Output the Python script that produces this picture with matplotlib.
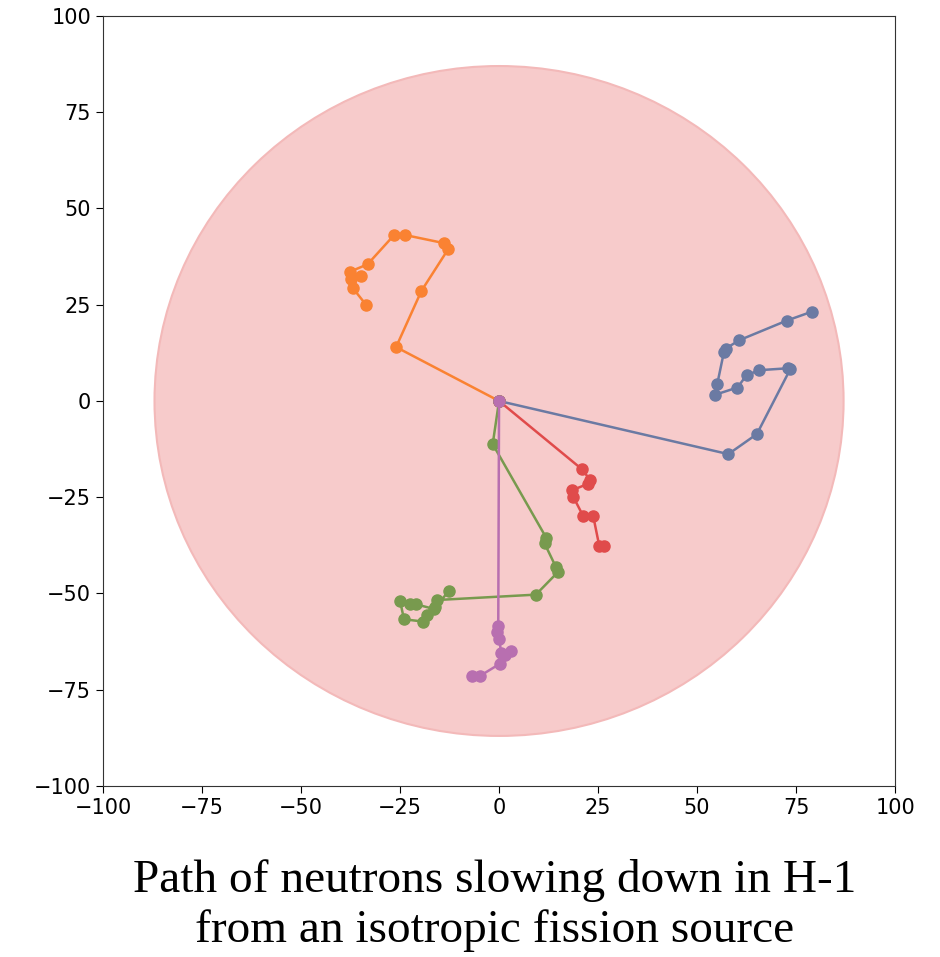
import matplotlib
matplotlib.use("Agg")
import matplotlib.pyplot as plt
from matplotlib.patches import Circle

# Neutron paths (x, y) in cm-like units
orange_x = [0, -26.0, -19.6, -12.8, -13.9, -23.7, -26.5, -33.2, -37.6, -34.8, -37.3, -36.9, -33.6]
orange_y = [0, 14.0, 28.6, 39.5, 41.0, 43.1, 43.1, 35.5, 33.6, 32.4, 31.7, 29.3, 25.0]

blue_x = [0, 57.9, 65.1, 73.5, 73.0, 65.7, 62.5, 60.2, 54.5, 55.1, 56.8, 57.2, 60.7, 72.7, 79.0]
blue_y = [0, -13.8, -8.6, 8.2, 8.5, 8.0, 6.7, 3.5, 1.6, 4.4, 12.8, 13.6, 15.8, 20.9, 23.2]

red_x = [0, 20.9, 23.0, 22.5, 18.4, 18.8, 21.3, 23.8, 25.3, 26.5]
red_y = [0, -17.7, -20.5, -21.5, -23.2, -25.0, -30.0, -30.0, -37.6, -37.6]

green_x = [0, -1.6, 11.9, 11.5, 14.3, 14.9, 9.3, -15.7, -16.2, -18.3, -19.1, -24.0, -25.0, -22.5, -21.0, -16.5, -12.6]
green_y = [0, -11.2, -35.5, -37.0, -43.0, -44.4, -50.3, -51.7, -53.5, -55.6, -57.3, -56.7, -51.9, -52.8, -52.8, -54.0, -49.3]

purple_x = [0, -0.2, -0.5, 0.1, 0.5, 3.0, 1.5, 0.3, -4.8, -6.9]
purple_y = [0, -58.5, -60.0, -61.8, -65.5, -65.0, -66.0, -68.2, -71.4, -71.4]

radius = 87
ticks = [-100, -75, -50, -25, 0, 25, 50, 75, 100]
caption = "Path of neutrons slowing down in H-1\nfrom an isotropic fission source"

fig = plt.figure(figsize=(9.4, 9.57), dpi=100)
ax = fig.add_axes([0.1096, 0.1787, 0.8426, 0.8046])

ax.add_patch(Circle((0, 0), radius, facecolor="#F7CBCB",
                    edgecolor="#F3B9B9", lw=1.5, zorder=1))

series = [
    (orange_x, orange_y, "#FA8232"),
    (blue_x, blue_y, "#6B7AA3"),
    (red_x, red_y, "#E04B4B"),
    (green_x, green_y, "#789A4E"),
    (purple_x, purple_y, "#B86FB0"),
]
for xs, ys, c in series:
    ax.plot(xs, ys, "-o", color=c, lw=1.8, markersize=8, zorder=3)

ax.set_xlim(-100, 100)
ax.set_ylim(-100, 100)
ax.set_xticks(ticks)
ax.set_yticks(ticks)
ax.tick_params(labelsize=15, length=5)
for s in ax.spines.values():
    s.set_color("#333333")

fig.text(0.526, 0.054, caption, ha="center", va="center",
         family="Liberation Serif", fontsize=34, linespacing=1.2)

fig.savefig("out.png", dpi=100)
